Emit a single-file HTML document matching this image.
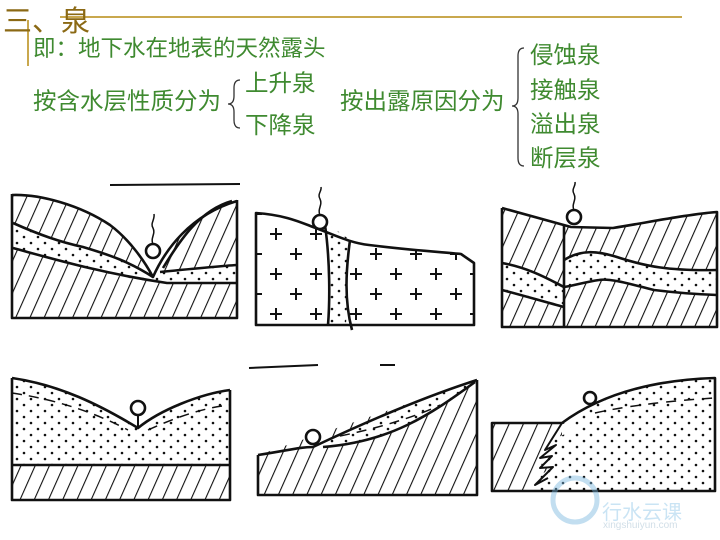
<!DOCTYPE html>
<html><head><meta charset="utf-8"><style>
html,body{margin:0;padding:0;background:#fff;}
body{width:720px;height:540px;overflow:hidden;position:relative;font-family:"Liberation Sans","Noto Sans CJK SC",sans-serif;}
.t{position:absolute;color:#3f8a30;font-size:22px;line-height:1;white-space:nowrap;font-family:"Liberation Sans","Noto Sans CJK SC",sans-serif;}
</style></head><body>
<svg width="720" height="540" style="position:absolute;left:0;top:0" xmlns="http://www.w3.org/2000/svg">
<defs>
<pattern id="h" width="13" height="13" patternUnits="userSpaceOnUse" patternTransform="rotate(24)">
<line x1="0" y1="0" x2="0" y2="13" stroke="#111" stroke-width="2.2"/></pattern>
<pattern id="d" width="14" height="12" patternUnits="userSpaceOnUse">
<circle cx="3" cy="3" r="1.3" fill="#111"/><circle cx="10" cy="9" r="1.3" fill="#111"/></pattern>
<pattern id="p" width="40" height="40" patternUnits="userSpaceOnUse" x="6" y="4">
<path d="M10 4v12M4 10h12M30 24v12M24 30h12" stroke="#111" stroke-width="2"/></pattern>
</defs>
<line x1="60" y1="17" x2="682" y2="17" stroke="#c9a84e" stroke-width="2"/>
<line x1="28" y1="20" x2="28" y2="66" stroke="#c9a84e" stroke-width="2"/>
<text x="3" y="31" font-size="29" fill="#8b6914" font-family="Liberation Sans, Noto Sans CJK SC, sans-serif">三、泉</text>
<path d="M240 80 q-6 0 -6 8 v8 q0 8 -6 8 q6 0 6 8 v8 q0 8 6 8" fill="none" stroke="#333" stroke-width="1.3"/>
<path d="M524 48 q-6 0 -6 8 v42 q0 8 -6 8 q6 0 6 8 v44 q0 8 6 8" fill="none" stroke="#333" stroke-width="1.3"/>
<g stroke="#111" stroke-width="2.6" fill="none" stroke-linejoin="round">
<!-- panel 1 -->
<rect x="12" y="194" width="225" height="124" fill="url(#h)" stroke="none"/>
<path d="M13 223 C40 235 60 242 83 247 C110 255 130 262 153 277 L167 270 C200 268 220 266 237 265 L237 283 C200 283 180 283 167 283 C130 280 100 273 13 248Z" fill="#fff" stroke="none"/>
<path d="M13 223 C40 235 60 242 83 247 C110 255 130 262 153 277 L167 270 C200 268 220 266 237 265 L237 283 C200 283 180 283 167 283 C130 280 100 273 13 248Z" fill="url(#d)" stroke="none"/>
<path d="M12 194 C40 194 80 205 110 225 C130 240 145 262 153 277 C165 250 190 215 237 200 L237 190 L12 190Z" fill="#fff" stroke="none"/>
<path d="M12 194 L12 318 L237 318 L237 200"/>
<path d="M12 195 C40 194 80 205 110 225 C130 240 145 262 153 277 C165 250 190 215 237 201"/>
<path d="M163 268 C180 240 200 210 232 201"/>
<path d="M13 223 C40 235 60 242 83 247 C110 255 130 262 153 277 M160 272 C200 268 220 266 237 265"/>
<path d="M13 248 C50 258 100 273 167 283 C190 283 210 283 237 283"/>
<line x1="110" y1="185" x2="240" y2="184" stroke-width="2"/>
<circle cx="153" cy="251" r="7" fill="#fff"/>
<path d="M153 244 c-3 -6 3 -10 0 -16 c-3 -5 2 -8 1 -14" stroke-width="1.5"/>
<!-- panel 2 -->
<path d="M256 213 C285 215 300 222 313 227 C335 235 350 243 369 245 C410 250 440 252 461 254 L474 263 L474 325 L256 325Z" fill="url(#p)" stroke="none"/>
<path d="M325 222 L350 240 L346 325 L330 325Z" fill="#fff" stroke="none"/>
<path d="M325 222 L350 240 L346 325 L330 325Z" fill="url(#d)" stroke="none"/>
<path d="M256 213 C285 215 300 222 313 227 C335 235 350 243 369 245 C410 250 440 252 461 254 L474 263 L474 325 L256 325Z"/>
<path d="M325 225 C330 260 330 300 328 325"/>
<path d="M350 240 C346 270 344 300 352 330"/>
<circle cx="320" cy="222" r="7" fill="#fff"/>
<path d="M320 215 c-3 -6 3 -10 0 -16 c-3 -5 2 -8 1 -12" stroke-width="1.5"/>
<!-- panel 3 -->
<rect x="502" y="208" width="215" height="119" fill="url(#h)" stroke="none"/>
<path d="M502 208 L571 227 L613 228 C650 222 690 214 717 212 L717 205 L502 205Z" fill="#fff" stroke="none"/>
<path d="M502 263 C530 268 550 280 564 287 L564 307 C545 302 525 296 502 290Z" fill="#fff" stroke="none"/>
<path d="M502 263 C530 268 550 280 564 287 L564 307 C545 302 525 296 502 290Z" fill="url(#d)" stroke="none"/>
<path d="M564 260 C580 250 596 250 620 258 C645 266 668 271 717 270 L717 295 C690 294 670 292 654 290 C630 284 610 278 599 280 C585 282 572 286 564 287Z" fill="#fff" stroke="none"/>
<path d="M564 260 C580 250 596 250 620 258 C645 266 668 271 717 270 L717 295 C690 294 670 292 654 290 C630 284 610 278 599 280 C585 282 572 286 564 287Z" fill="url(#d)" stroke="none"/>
<path d="M502 208 L502 327 L717 327 L717 212 C690 214 650 222 613 228 L571 227 L502 208"/>
<line x1="564" y1="225" x2="564" y2="327"/>
<path d="M502 263 C530 268 550 280 564 287"/><path d="M502 290 C525 296 545 302 564 307"/>
<path d="M564 260 C580 250 596 250 620 258 C645 266 668 271 717 270"/>
<path d="M564 287 C572 286 585 282 599 280 C610 278 630 284 654 290 C670 292 690 294 717 295"/>
<circle cx="574" cy="217" r="7" fill="#fff"/>
<path d="M574 210 c-3 -6 3 -10 0 -16 c-3 -5 2 -8 1 -12" stroke-width="1.5"/>
<!-- panel 4 -->
<path d="M12 378 C60 385 100 405 138 428 C160 410 200 394 230 390 L230 465 L12 465Z" fill="url(#d)" stroke="none"/>
<rect x="12" y="465" width="218" height="35" fill="url(#h)" stroke="none"/>
<path d="M12 378 L12 500 L230 500 L230 390"/>
<path d="M12 378 C60 385 100 405 138 428 C160 410 200 394 230 390"/>
<line x1="12" y1="465" x2="230" y2="465"/>
<path d="M12 393 C60 400 100 415 128 430 M148 430 C170 420 200 408 230 405" stroke-width="1.5" stroke-dasharray="10 7"/>
<circle cx="138" cy="408" r="7" fill="#fff"/><line x1="138" y1="415" x2="138" y2="428" stroke-width="2"/>
<!-- panel 5 -->
<path d="M258 455 L477 380 L477 495 L258 495Z" fill="url(#h)" stroke="none"/>
<path d="M313 447 C370 420 430 395 477 380 C440 410 400 440 323 447Z" fill="#fff" stroke="none"/>
<path d="M313 447 C370 420 430 395 477 380 C440 410 400 440 323 447Z" fill="url(#d)" stroke="none"/>
<path d="M258 455 L258 495 L477 495 L477 380"/>
<path d="M258 455 C290 450 300 447 313 447 C370 420 430 395 477 380"/>
<path d="M323 447 C390 442 430 415 475 382"/>
<path d="M340 436 C380 428 420 415 440 405" stroke-width="1.5" stroke-dasharray="10 7"/>
<line x1="249" y1="368" x2="318" y2="365" stroke-width="2"/><line x1="380" y1="365" x2="395" y2="365" stroke-width="2"/>
<circle cx="313" cy="437" r="7" fill="#fff"/>
<!-- panel 6 -->
<rect x="492" y="423" width="70" height="68" fill="url(#h)" stroke="none"/>
<path d="M562 423 C600 395 650 380 715 378 L715 491 L532 491 L540 476 L550 468 L540 464 L548 456 L545 450 L556 445 L552 440 L565 434 L575 430Z" fill="#fff" stroke="none"/>
<path d="M562 423 C600 395 650 380 715 378 L715 491 L532 491 L540 476 L550 468 L540 464 L548 456 L545 450 L556 445 L552 440 L565 434 L575 430Z" fill="url(#d)" stroke="none"/>
<path d="M492 423 L562 423 C600 395 650 380 715 378 L715 491 L492 491Z"/>
<path d="M562 423 L545 450 L556 445 L540 458 L552 456 L540 468 L553 467 L535 485 L548 478" stroke-width="2"/>
<path d="M595 413 C630 405 680 400 715 398" stroke-width="1.5" stroke-dasharray="10 8"/>
<circle cx="590" cy="398" r="6" fill="#fff"/>
</g>
<g opacity="0.45">
<circle cx="575" cy="500" r="22" fill="none" stroke="#7ab8e0" stroke-width="5"/>
<text x="602" y="519" font-size="20" fill="#8cc4e8" font-family="Liberation Sans, Noto Sans CJK SC, sans-serif">行水云课</text>
<text x="603" y="528" font-size="10" fill="#9ab8cc" font-family="Liberation Sans, sans-serif">xingshuiyun.com</text>
</g>
</svg>
<div class="t" style="left:33px;top:38px;font-size:22.5px">即：地下水在地表的天然露头</div>
<div class="t" style="left:33px;top:90px;font-size:23.5px">按含水层性质分为</div>
<div class="t" style="left:245px;top:72px;font-size:23.5px">上升泉</div>
<div class="t" style="left:245px;top:114px;font-size:23.5px">下降泉</div>
<div class="t" style="left:340px;top:90px;font-size:23.5px">按出露原因分为</div>
<div class="t" style="left:530px;top:44px;font-size:23.5px">侵蚀泉</div>
<div class="t" style="left:530px;top:79px;font-size:23.5px">接触泉</div>
<div class="t" style="left:530px;top:113px;font-size:23.5px">溢出泉</div>
<div class="t" style="left:530px;top:147px;font-size:23.5px">断层泉</div>
</body></html>
